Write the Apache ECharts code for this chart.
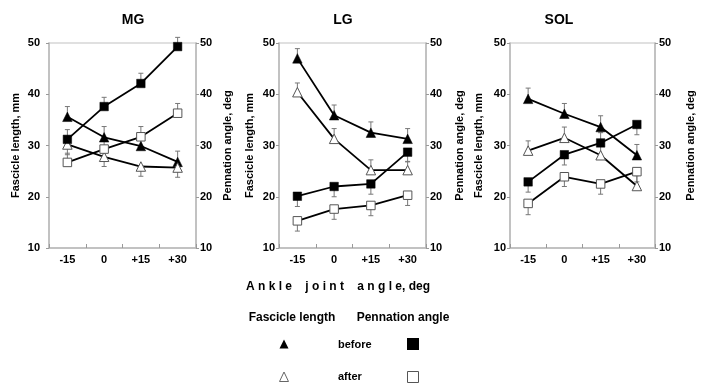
<!DOCTYPE html>
<html>
<head>
<meta charset="utf-8">
<script src="https://cdn.jsdelivr.net/npm/echarts@6/dist/echarts.min.js"></script>
<style>
html,body{margin:0;padding:0;background:#fff;}
#chart{width:707px;height:389px;}
</style>
</head>
<body>
<div id="chart"></div>
<script>
// ---- data ----
const categories = ['-15', '0', '+15', '+30'];
const panelNames = ['MG', 'LG', 'SOL'];
const yTicks = [10, 20, 30, 40, 50];

// MG
const mgFascBefore = [35.6, 31.6, 29.9, 26.8];
const mgFascBeforeErr = [2.0, 2.1, 2.0, 2.1];
const mgFascAfter = [30.2, 27.8, 25.9, 25.7];
const mgFascAfterErr = [-2.0, -1.9, -1.9, -1.9];
const mgPennBefore = [31.2, 37.6, 42.1, 49.3];
const mgPennBeforeErr = [1.9, 1.8, 2.0, 1.8];
const mgPennAfter = [26.7, 29.3, 31.7, 36.3];
const mgPennAfterErr = [1.8, 2.0, 2.0, 1.9];

// LG
const lgFascBefore = [47.0, 35.9, 32.5, 31.3];
const lgFascBeforeErr = [1.9, 2.0, 2.1, 2.0];
const lgFascAfter = [40.4, 31.3, 25.2, 25.2];
const lgFascAfterErr = [1.8, 2.0, 2.0, 1.7];
const lgPennBefore = [20.1, 22.0, 22.5, 28.7];
const lgPennBeforeErr = [-2.0, -2.0, -2.0, -1.9];
const lgPennAfter = [15.3, 17.6, 18.3, 20.3];
const lgPennAfterErr = [-2.0, -2.0, -2.0, -2.0];

// SOL
const solFascBefore = [39.1, 36.2, 33.6, 28.1];
const solFascBeforeErr = [2.1, 2.0, 2.2, 2.1];
const solFascAfter = [29.0, 31.5, 28.1, 22.1];
const solFascAfterErr = [1.9, 2.1, 2.0, 2.0];
const solPennBefore = [22.9, 28.2, 30.5, 34.1];
const solPennBeforeErr = [-2.0, -2.0, 2.0, -2.0];
const solPennAfter = [18.7, 23.9, 22.5, 24.9];
const solPennAfterErr = [-2.2, -1.9, -2.0, -2.0];

// ---- build ----
const FONT = '"Liberation Sans", Arial, sans-serif';
const panelData = [
  {fb: mgFascBefore, fbe: mgFascBeforeErr, fa: mgFascAfter, fae: mgFascAfterErr,
   pb: mgPennBefore, pbe: mgPennBeforeErr, pa: mgPennAfter, pae: mgPennAfterErr},
  {fb: lgFascBefore, fbe: lgFascBeforeErr, fa: lgFascAfter, fae: lgFascAfterErr,
   pb: lgPennBefore, pbe: lgPennBeforeErr, pa: lgPennAfter, pae: lgPennAfterErr},
  {fb: solFascBefore, fbe: solFascBeforeErr, fa: solFascAfter, fae: solFascAfterErr,
   pb: solPennBefore, pbe: solPennBeforeErr, pa: solPennAfter, pae: solPennAfterErr}
];
const gridLayout = [
  {left: 49, top: 43, width: 147, height: 205},
  {left: 279, top: 43, width: 147, height: 205},
  {left: 510, top: 43, width: 145, height: 205}
];
const leftLabelMargin = [9, 4, 4];
const leftNameGap = [28, 24, 26];
const rightNameGap = [26, 28, 30];
const titlePos = [[133, 20], [343, 20], [559, 20]];

const axisLineStyle = {color: '#b8b8b8', width: 1.5};
const labelStyle = {color: '#000', fontWeight: 'bold', fontSize: 11, fontFamily: FONT};

const grids = [], xAxes = [], yAxes = [], series = [];
gridLayout.forEach((g, i) => {
  grids.push(Object.assign({show: true, borderColor: '#d6d6d6', borderWidth: 1.5, backgroundColor: 'transparent'}, g));
  xAxes.push({
    type: 'category', gridIndex: i, data: categories, boundaryGap: true,
    axisLine: {show: true, lineStyle: axisLineStyle},
    axisTick: {show: true, inside: true, length: 4, lineStyle: {color: '#999', width: 1}},
    axisLabel: Object.assign({margin: 6}, labelStyle),
    splitLine: {show: false}
  });
  const yBase = {
    type: 'value', gridIndex: i, min: yTicks[0], max: yTicks[yTicks.length - 1], interval: 10,
    axisLine: {show: true, lineStyle: axisLineStyle},
    axisTick: {show: true, inside: false, length: 3, lineStyle: {color: '#999', width: 1}},
    splitLine: {show: false},
    nameLocation: 'middle', nameRotate: 90,
    nameTextStyle: {color: '#000', fontWeight: 'bold', fontSize: 11, fontFamily: FONT}
  };
  yAxes.push(Object.assign({}, yBase, {position: 'left', name: 'Fascicle length, mm', nameGap: leftNameGap[i],
    axisLabel: Object.assign({margin: leftLabelMargin[i]}, labelStyle)}));
  yAxes.push(Object.assign({}, yBase, {position: 'right', name: 'Pennation angle, deg', nameGap: rightNameGap[i],
    axisLabel: Object.assign({margin: 4}, labelStyle)}));
});

function errSeries(vals, errs, xi, yi) {
  return {
    type: 'custom', xAxisIndex: xi, yAxisIndex: yi, z: 1, clip: false, silent: true,
    data: vals.map((v, k) => [k, v, errs[k]]),
    encode: {x: 0, y: 1},
    renderItem: function (params, api) {
      const p0 = api.coord([api.value(0), api.value(1)]);
      const p1 = api.coord([api.value(0), api.value(1) + api.value(2)]);
      const st = {stroke: '#777', lineWidth: 1};
      return {type: 'group', children: [
        {type: 'line', shape: {x1: p0[0], y1: p0[1], x2: p1[0], y2: p1[1]}, style: st},
        {type: 'line', shape: {x1: p1[0] - 2.5, y1: p1[1], x2: p1[0] + 2.5, y2: p1[1]}, style: st}
      ]};
    }
  };
}
function lineSeries(name, vals, xi, yi, symbol, filled, size) {
  return {
    name: name, type: 'line', xAxisIndex: xi, yAxisIndex: yi, z: 3,
    data: vals, symbol: symbol, symbolSize: size, showAllSymbol: true,
    lineStyle: {color: '#000', width: 1.8},
    itemStyle: filled ? {color: '#000', borderColor: '#000', borderWidth: 0.5}
                      : {color: '#fff', borderColor: '#555', borderWidth: 1},
    emphasis: {disabled: true}, animation: false
  };
}

panelData.forEach((d, i) => {
  const yL = i * 2, yR = i * 2 + 1;
  series.push(errSeries(d.fb, d.fbe, i, yL));
  series.push(errSeries(d.fa, d.fae, i, yL));
  series.push(errSeries(d.pb, d.pbe, i, yR));
  series.push(errSeries(d.pa, d.pae, i, yR));
  series.push(lineSeries('Fascicle length before', d.fb, i, yL, 'triangle', true, 9.5));
  series.push(lineSeries('Fascicle length after', d.fa, i, yL, 'triangle', false, 9.5));
  series.push(lineSeries('Pennation angle before', d.pb, i, yR, 'rect', true, 8.5));
  series.push(lineSeries('Pennation angle after', d.pa, i, yR, 'rect', false, 8.5));
});

const txt = (x, y, text, size, align) => ({
  type: 'text', x: x, y: y, silent: true,
  style: {text: text, fill: '#000', font: 'bold ' + size + 'px ' + FONT,
          align: align || 'center', verticalAlign: 'middle',
          textAlign: align || 'center', textVerticalAlign: 'middle'}
});
const graphics = [];
panelNames.forEach((n, i) => graphics.push(txt(titlePos[i][0], titlePos[i][1], n, 14)));
graphics.push(txt(338, 287, 'A n k l e    j o i n t    a n g l e, deg', 12));
graphics.push(txt(292, 318, 'Fascicle length', 12));
graphics.push(txt(403, 318, 'Pennation angle', 12));
graphics.push(txt(338, 345, 'before', 11, 'left'));
graphics.push(txt(338, 377, 'after', 11, 'left'));
graphics.push({type: 'polygon', silent: true, shape: {points: [[284, 339.5], [288.5, 348.5], [279.5, 348.5]]}, style: {fill: '#000'}});
graphics.push({type: 'polygon', silent: true, shape: {points: [[284, 372], [288.5, 381.5], [279.5, 381.5]]}, style: {fill: '#fff', stroke: '#666', lineWidth: 1}});
graphics.push({type: 'rect', silent: true, shape: {x: 407, y: 338, width: 12, height: 12}, style: {fill: '#000'}});
graphics.push({type: 'rect', silent: true, shape: {x: 407.5, y: 371.5, width: 11, height: 11}, style: {fill: '#fff', stroke: '#555', lineWidth: 1}});

const chart = echarts.init(document.getElementById('chart'), null, {renderer: 'canvas'});
chart.setOption({
  animation: false,
  backgroundColor: '#fff',
  grid: grids, xAxis: xAxes, yAxis: yAxes, series: series,
  graphic: graphics
});
</script>
</body>
</html>
